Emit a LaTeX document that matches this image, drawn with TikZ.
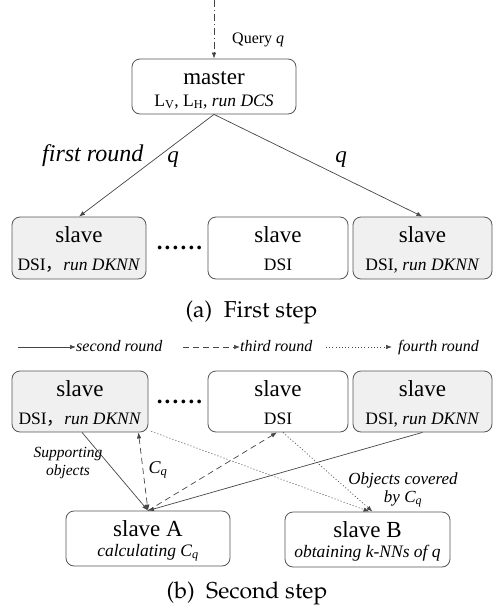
\documentclass[tikz,border=0pt]{standalone}
\usepackage[T1,TU]{fontenc}
\usepackage{fontspec}
\setmainfont{Liberation Serif}
\newfontfamily\cjk{Noto Sans CJK SC}
\usetikzlibrary{arrows.meta,calc}
\definecolor{boxline}{HTML}{555555}
\definecolor{conline}{HTML}{454545}
\definecolor{boxfill}{HTML}{F0F0F0}
\definecolor{txt}{HTML}{000000}
\newcommand{\capfont}{\fontencoding{T1}\fontfamily{ppl}\fontsize{23}{27}\selectfont}
\begin{document}
\begin{tikzpicture}[x=1pt,y=-1pt,
  box/.style={draw=boxline,line width=0.8pt,rounded corners=8pt,inner sep=0pt},
  gbox/.style={box,fill=boxfill},
  tbig/.style={font=\fontsize{23}{26}\selectfont,text=txt,inner sep=0pt,anchor=base},
  tmid/.style={font=\fontsize{17.5}{20}\selectfont,text=txt,inner sep=0pt,anchor=base},
  tsml/.style={font=\fontsize{16}{19}\selectfont\itshape,text=txt,inner sep=0pt,anchor=base},
  conn/.style={draw=conline,line width=0.7pt,-{Latex[length=6pt,width=4.5pt]}},
  dsh/.style={dash pattern=on 6pt off 4pt},
  dtt/.style={dash pattern=on 1pt off 2.2pt},
  capt/.style={font=\capfont,text=txt,inner sep=0pt,anchor=base}]
\useasboundingbox (0,0) rectangle (495,614);

% ---------- First step ----------
\node[box,minimum width=164pt,minimum height=55pt] (M) at (214,86.5) {};
\node[tbig] (Mt) at (214,84) {master};
\node[tmid] (Ms) at (214,106) {L\textsubscript{V}, L\textsubscript{H}, \textit{run DCS}};

\node[gbox,minimum width=134pt,minimum height=62pt] (L1) at (79,248) {};
\node[tbig] (L1t) at (79,242) {slave};
\node[tmid] (L1s) at (79,270) {DSI{\cjk ，}\textit{run DKNN}};

\node[box,minimum width=140pt,minimum height=62pt] (M1) at (278,248) {};
\node[tbig] (M1t) at (278,242) {slave};
\node[tmid] (M1s) at (278,270) {DSI};

\node[gbox,minimum width=139pt,minimum height=62pt] (R1) at (422.5,248) {};
\node[tbig] (R1t) at (422.5,242) {slave};
\node[tmid] (R1s) at (422.5,270) {DSI, \textit{run DKNN}};

\node[tbig,anchor=center] (D1) at (179.5,248) {\textbf{.\kern2.2pt.\kern2.2pt.\kern2.2pt.\kern2.2pt.\kern2.2pt.}};

\coordinate (Q0) at (214,0);
\draw[conn,dash pattern=on 7pt off 3pt on 1pt off 3pt] (Q0) -- (M.north);
\node[tsml,font=\fontsize{16}{19}\selectfont,anchor=base west] (Ql) at (232,43) {Query \textit{q}};

\draw[conn] (M.south) -- (L1.north);
\draw[conn] (M.south) -- (R1.north);
\node[tbig,font=\fontsize{24}{27}\selectfont\itshape,anchor=base west] (FR) at (42,161) {first round};
\node[tbig,font=\fontsize{23}{26}\selectfont\itshape] (q1) at (173,162) {q};
\node[tbig,font=\fontsize{23}{26}\selectfont\itshape] (q2) at (341,162) {q};

\node[capt] (CapA) at (251.5,317) {(a)\ \ First step};

% ---------- Legend ----------
\coordinate (La) at (18,347);  \coordinate (Lb) at (76,347);
\coordinate (Lc) at (183,347); \coordinate (Ld) at (240,347);
\coordinate (Le) at (326,347); \coordinate (Lf) at (392,347);
\draw[conn] (La) -- (Lb);
\draw[conn,dsh] (Lc) -- (Ld);
\draw[conn,dtt] (Le) -- (Lf);
\node[tsml,anchor=base west] (Lt1) at (76,351) {second round};
\node[tsml,anchor=base west] (Lt2) at (240,351) {third round};
\node[tsml,anchor=base west] (Lt3) at (398,351) {fourth round};

% ---------- Second step ----------
\node[gbox,minimum width=136pt,minimum height=61pt] (L2) at (80,401.5) {};
\node[tbig] (L2t) at (80,396) {slave};
\node[tmid] (L2s) at (80,424) {DSI{\cjk ，}\textit{run DKNN}};

\node[box,minimum width=140pt,minimum height=61pt] (M2) at (278,401.5) {};
\node[tbig] (M2t) at (278,396) {slave};
\node[tmid] (M2s) at (278,424) {DSI};

\node[gbox,minimum width=139pt,minimum height=61pt] (R2) at (422.5,401.5) {};
\node[tbig] (R2t) at (422.5,396) {slave};
\node[tmid] (R2s) at (422.5,424) {DSI, \textit{run DKNN}};

\node[tbig,anchor=center] (D2) at (179.5,402) {\textbf{.\kern2.2pt.\kern2.2pt.\kern2.2pt.\kern2.2pt.\kern2.2pt.}};

\node[box,minimum width=164pt,minimum height=55pt] (A) at (148,538.5) {};
\node[tbig] (At) at (148,536) {slave A};
\node[tmid] (As) at (148,556) {\textit{calculating C\textsubscript{q}}};

\node[box,minimum width=165pt,minimum height=55pt] (B) at (367.5,539.5) {};
\node[tbig] (Bt) at (367.5,537) {slave B};
\node[tmid] (Bs) at (367.5,557) {\textit{obtaining k-NNs of q}};

\coordinate (L2c) at ($(L2.south east)+(3,-1)$);
\draw[conn] ($(L2.south)+(2,0)$) -- (A.north);
\draw[conn,dsh,{Latex[length=6pt,width=4.5pt]}-{Latex[length=6pt,width=4.5pt]}] ($(L2.south east)+(-10,0)$) -- (A.north);
\draw[conn,dsh] (A.north) -- ($(M2.south)+(-1,0)$);
\draw[conn] (R2.south) -- (A.north);
\draw[conn,dtt] (L2c) -- ($(B.north)+(2,0)$);
\draw[conn,dtt] ($(M2.south)+(5,0)$) -- ($(B.north)+(5,0)$);

\node[tsml,font=\fontsize{15.5}{18}\selectfont\itshape] (S1) at (68,457) {Supporting};
\node[tsml,font=\fontsize{15.5}{18}\selectfont\itshape] (S2) at (68,475) {objects};
\node[tmid,font=\fontsize{18}{20}\selectfont\itshape] (Cq) at (158,473) {C\textsubscript{q}};
\node[tsml,font=\fontsize{17}{20}\selectfont\itshape] (O1) at (403,484) {Objects covered};
\node[tsml,font=\fontsize{17}{20}\selectfont\itshape] (O2) at (403,502) {by C\textsubscript{q}};

\node[capt] (CapB) at (247,598) {(b)\ \ Second step};
\end{tikzpicture}
\end{document}
